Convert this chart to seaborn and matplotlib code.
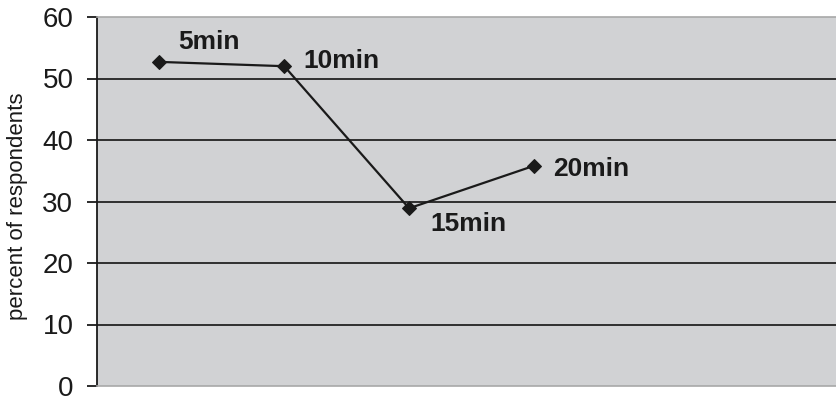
import matplotlib
matplotlib.use("Agg")
import matplotlib.pyplot as plt
import seaborn as sns
import pandas as pd

minutes = [5, 10, 15, 20]
labels = ["5min", "10min", "15min", "20min"]
percent = [52.7, 52.0, 28.9, 35.8]
yticks = [0, 10, 20, 30, 40, 50, 60]
label_offsets = [(13.5, 5.5), (13.5, 3.5), (15, -11.5), (13.5, -2)]
label_va = ["bottom", "center", "center", "center"]

sns.set_theme(style="white")
plt.rcParams["font.family"] = ["Liberation Sans", "DejaVu Sans"]

df = pd.DataFrame({"minutes": minutes, "percent": percent})

fig = plt.figure(figsize=(8.36, 3.96), dpi=100)
ax = fig.add_axes([97 / 836, 10 / 396, 739 / 836, 369 / 396])
ax.set_facecolor("#d1d2d4")

sns.lineplot(data=df, x="minutes", y="percent", ax=ax, color="#1a1a1a",
             linewidth=1.6, marker="D", markersize=7.5, markeredgecolor="#1a1a1a",
             zorder=5)

for xv, yv, lab, off, va in zip(minutes, percent, labels, label_offsets, label_va):
    ax.annotate(lab, (xv, yv), xytext=off, textcoords="offset points",
                fontsize=19, fontweight="bold", color="#1a1a1a", ha="left", va=va)

ax.set_xlim(2.5, 32.1)
ax.set_ylim(0, 60)
ax.set_yticks(yticks)
ax.set_xticks([])
for yv in yticks[1:-1]:
    ax.axhline(yv, color="#222222", linewidth=1.3, zorder=1)

for s in ["top", "bottom"]:
    ax.spines[s].set_visible(True)
    ax.spines[s].set_color("#a8a8a8")
    ax.spines[s].set_linewidth(1.2)
ax.spines["right"].set_visible(False)
ax.spines["left"].set_color("#1a1a1a")
ax.spines["left"].set_linewidth(1.3)

ax.tick_params(axis="y", which="both", left=True, length=7, width=1.3,
               color="#1a1a1a", labelsize=20, labelcolor="#1a1a1a", pad=10)
ax.set_xlabel("")
ax.set_ylabel("percent of respondents", fontsize=16, color="#1a1a1a")
ax.yaxis.set_label_coords((28 - 97) / 739, (386 - 206) / 369)

fig.savefig("out.png", dpi=100)
